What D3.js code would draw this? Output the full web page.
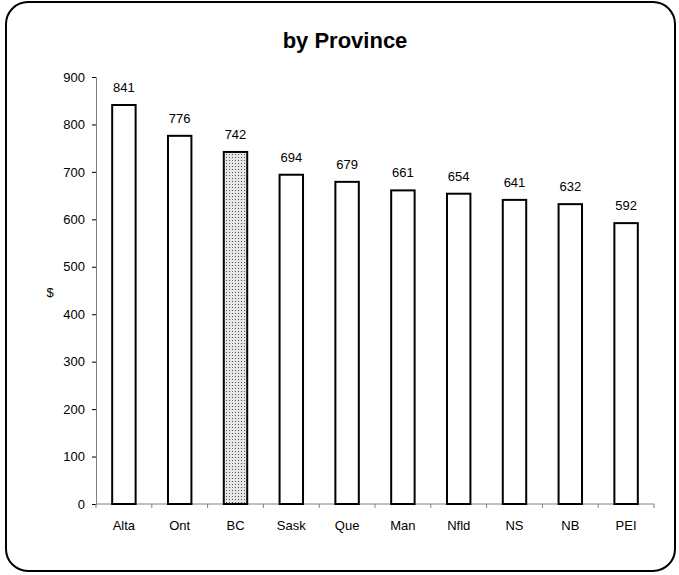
<!DOCTYPE html>
<html><head><meta charset="utf-8">
<script src="https://cdn.jsdelivr.net/npm/d3@7"></script>
<style>body{margin:0;background:#fff}svg{display:block;font-family:"Liberation Sans",Arial,sans-serif}</style>
</head><body>
<svg id="c" width="679" height="575"></svg>
<script>
const provinces = ["Alta","Ont","BC","Sask","Que","Man","Nfld","NS","NB","PEI"];
const values = [841,776,742,694,679,661,654,641,632,592];
const yTicks = [0,100,200,300,400,500,600,700,800,900];
const highlight = "BC";

const svg = d3.select("#c");
const defs = svg.append("defs");
const pat = defs.append("pattern").attr("id","dots").attr("patternUnits","userSpaceOnUse").attr("width",3).attr("height",3);
pat.append("rect").attr("width",3).attr("height",3).attr("fill","#e6e6e6");
pat.append("rect").attr("x",1).attr("y",1).attr("width",1).attr("height",1).attr("fill","#555");

svg.append("rect").attr("x",6).attr("y",2).attr("width",669).attr("height",569).attr("rx",22).attr("ry",22)
  .attr("fill","#fff").attr("stroke","#000").attr("stroke-width",2);

svg.append("text").attr("x",345).attr("y",48).attr("text-anchor","middle").attr("font-weight","bold").attr("font-size",22).text("by Province");

const x = d3.scaleBand().domain(provinces).range([96,654]).paddingInner(0).paddingOuter(0);
const y = d3.scaleLinear().domain([0,900]).range([504,77]);

// y axis
const ya = svg.append("g").attr("transform","translate(96,0)")
  .call(d3.axisLeft(y).tickValues(yTicks).tickSize(4).tickPadding(7));
ya.select(".domain").attr("stroke","#808080");
ya.selectAll(".tick line").attr("stroke","#000");
ya.selectAll("text").attr("font-size",13).attr("font-family","Liberation Sans, Arial, sans-serif").attr("fill","#000");

// x axis
const xa = svg.append("g").attr("transform","translate(0,504)");
xa.append("line").attr("x1",96).attr("x2",654).attr("stroke","#808080");
const bounds = provinces.map(p=>x(p)).concat([x(provinces[provinces.length-1])+x.bandwidth()]);
xa.selectAll("line.t").data(bounds).join("line").attr("class","t")
  .attr("x1",d=>d).attr("x2",d=>d).attr("y1",0).attr("y2",4).attr("stroke","#808080");
xa.selectAll("text").data(provinces).join("text")
  .attr("x",d=>x(d)+x.bandwidth()/2).attr("y",26).attr("text-anchor","middle").attr("font-size",13).text(d=>d);

svg.append("text").attr("x",50).attr("y",297).attr("text-anchor","middle").attr("font-size",13).text("$");

const bw = x.bandwidth()*0.42;
const bars = svg.append("g");
bars.selectAll("rect").data(provinces).join("rect")
  .attr("x",d=>x(d)+(x.bandwidth()-bw)/2)
  .attr("y",(d,i)=>y(values[i]))
  .attr("width",bw)
  .attr("height",(d,i)=>y(0)-y(values[i]))
  .attr("fill",d=>d===highlight?"url(#dots)":"#fff")
  .attr("stroke","#000").attr("stroke-width",2);

svg.append("g").selectAll("text").data(provinces).join("text")
  .attr("x",d=>x(d)+x.bandwidth()/2)
  .attr("y",(d,i)=>y(values[i])-13)
  .attr("text-anchor","middle").attr("font-size",13).text((d,i)=>values[i]);
</script>
</body></html>
